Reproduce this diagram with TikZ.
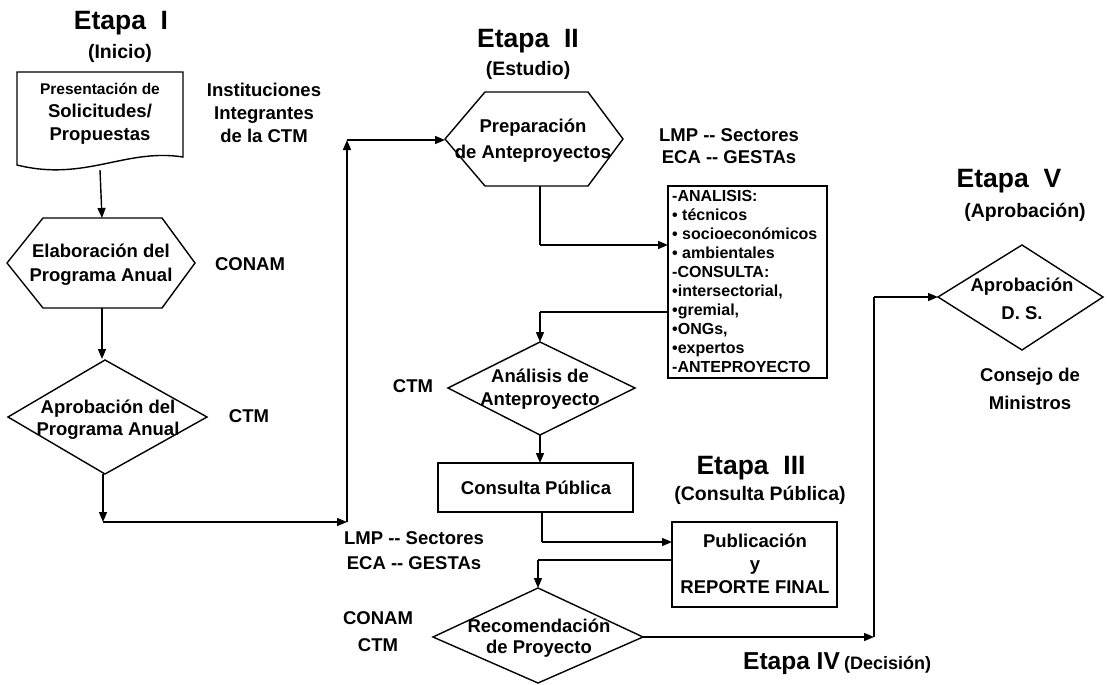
\documentclass[tikz,border=0pt]{standalone}
\usepackage{fontspec}
\setmainfont{Liberation Sans}
\usetikzlibrary{arrows.meta}
\begin{document}
\begin{tikzpicture}[x=1pt,y=-1pt,
  shp/.style={draw=black, line width=1.4pt, line join=miter},
  conn/.style={draw=black, line width=1.4pt},
  arr/.style={conn, -{Triangle[length=10pt,width=8pt]}},
  etapa/.style={font=\bfseries\fontsize{26.5}{30}\selectfont, inner sep=0pt},
  subt/.style={font=\bfseries\fontsize{19.5}{23}\selectfont, inner sep=0pt},
  body/.style={font=\bfseries\fontsize{18.5}{23}\selectfont, align=center, inner sep=0pt},
  lst/.style={font=\bfseries\fontsize{16}{19}\selectfont, align=left, inner sep=0pt}
]
\useasboundingbox[fill=white] (0,0) rectangle (1109,685);

% ---- titles
\node[etapa] (e1) at (121,23) {Etapa\ \ I};
\node[subt] (s1) at (120,53) {(Inicio)};
\node[etapa] (e2) at (528,41) {Etapa\ \ II};
\node[subt] (s2) at (528,70) {(Estudio)};
\node[etapa] (e3) at (751,468) {Etapa\ \ III};
\node[subt] (s3) at (760,495) {(Consulta Pública)};
\node[etapa, anchor=west, font=\bfseries\fontsize{24.5}{28}\selectfont] (e4) at (743,664) {Etapa\ IV};
\node[subt, anchor=west, font=\bfseries\fontsize{18}{20}\selectfont] (s4) at (844,665) {(Decisión)};
\node[etapa] (e5) at (1009,181) {Etapa\ \ V};
\node[subt] (s5) at (1025,212) {(Aprobación)};

% ---- Etapa I shapes
\draw[shp] (17,165) -- (17,72) -- (183,72) -- (183,157)
  .. controls (125,148) and (85,182) .. (17,165) -- cycle;
\node[body] (doc) at (100,114) {{\fontsize{15.5}{18}\selectfont Presentación de}\\Solicitudes/\\Propuestas};
\coordinate (docb) at (100,170);

\draw[shp] (43,218) -- (162,218) -- (195,263) -- (162,308) -- (43,308) -- (7,263) -- cycle;
\node[body, font=\bfseries\fontsize{18.5}{24}\selectfont] (h1) at (101,265) {Elaboración del\\Programa Anual};
\coordinate (h1t) at (102,218);
\coordinate (h1b) at (102,308);

\draw[shp] (105,360) -- (207,417) -- (105,474) -- (8,417) -- cycle;
\node[body, font=\bfseries\fontsize{18.5}{22}\selectfont] (d1) at (108,420) {Aprobación del\\Programa Anual};
\coordinate (d1t) at (102,359);
\coordinate (d1b) at (103,474);

\node[body] (inst) at (264,113) {Instituciones\\Integrantes\\de la CTM};
\node[body] (conam1) at (250,264) {CONAM};
\node[body] (ctm1) at (249,416) {CTM};

\coordinate (c1) at (103,522);
\coordinate (c2) at (347,522);
\coordinate (c3) at (347,140);

\draw[arr] (docb) -- (h1t);
\draw[arr] (h1b) -- (d1t);
\draw[arr] (d1b) -- (c1);
\draw[arr] (c1) -- (c2);
\draw[arr] (c2) -- (c3);

\node[body, font=\bfseries\fontsize{18.5}{25}\selectfont] (lmp2) at (414,551) {LMP -{}- Sectores\\ECA -{}- GESTAs};

% ---- Etapa II
\draw[shp] (485,92) -- (588,92) -- (623,139) -- (588,186) -- (485,186) -- (445,139) -- cycle;
\coordinate (h2l) at (445,140);
\coordinate (h2b) at (540,186);
\node[body, font=\bfseries\fontsize{18.5}{26}\selectfont] (h2) at (533,141) {Preparación\\de Anteproyectos};
\draw[arr] (c3) -- (h2l);

\node[body, font=\bfseries\fontsize{18.5}{22}\selectfont] (lmp1) at (729,146) {LMP -{}- Sectores\\ECA -{}- GESTAs};

\draw[shp] (668,186) rectangle (827,378);
\coordinate (boxl1) at (668,245);
\coordinate (boxl2) at (668,312);
\node[lst, anchor=north west] (lst) at (672,190) {-ANALISIS:\\• técnicos\\• socioeconómicos\\• ambientales\\-CONSULTA:\\•intersectorial,\\•gremial,\\•ONGs,\\•expertos\\-ANTEPROYECTO};
\coordinate (k1) at (540,245);
\draw[conn] (h2b) -- (k1);
\draw[arr] (k1) -- (boxl1);

\coordinate (k2) at (540,312);
\coordinate (d2t) at (540,342);
\draw[conn] (boxl2) -- (k2);
\draw[arr] (k2) -- (d2t);

\draw[shp] (540,342) -- (635,388) -- (540,435) -- (448,388) -- cycle;
\node[body] (d2) at (540,389) {Análisis de\\Anteproyecto};
\node[body] (ctm2) at (413,386) {CTM};
\coordinate (d2b) at (540,435);

\draw[shp] (438,463) rectangle (633,512);
\node[body] (cp) at (536,488) {Consulta Pública};
\coordinate (cpt) at (540,463);
\coordinate (cpb) at (542,512);
\draw[arr] (d2b) -- (cpt);

% ---- Etapa III
\draw[shp] (672,522) rectangle (837,607);
\node[body] (pub) at (755,564) {Publicación\\y\\REPORTE FINAL};
\coordinate (k3) at (542,542);
\coordinate (publ1) at (672,542);
\draw[conn] (cpb) -- (k3);
\draw[arr] (k3) -- (publ1);

\coordinate (publ2) at (672,560);
\coordinate (k4) at (538,560);
\coordinate (d3t) at (538,588);
\draw[conn] (publ2) -- (k4);
\draw[arr] (k4) -- (d3t);

% ---- Etapa IV
\draw[shp] (538,588) -- (643,637) -- (538,683) -- (433,637) -- cycle;
\node[body, font=\bfseries\fontsize{18.5}{21}\selectfont] (d3) at (539,638) {Recomendación\\de Proyecto};
\node[body, font=\bfseries\fontsize{18.5}{27}\selectfont] (conam2) at (378,632) {CONAM\\CTM};
\coordinate (d3r) at (643,637);
\coordinate (k5) at (874,637);
\coordinate (k6) at (874,297);
\coordinate (d4l) at (938,297);
\draw[arr] (d3r) -- (k5);
\draw[conn] (k5) -- (k6);
\draw[arr] (k6) -- (d4l);

% ---- Etapa V
\draw[shp] (1022,245) -- (1103,297) -- (1022,350) -- (938,297) -- cycle;
\node[body, font=\bfseries\fontsize{18.5}{28}\selectfont] (d4) at (1022,299) {Aprobación\\D. S.};
\node[body, font=\bfseries\fontsize{18.5}{28}\selectfont] (cm) at (1030,389) {Consejo de\\Ministros};

\end{tikzpicture}
\end{document}
